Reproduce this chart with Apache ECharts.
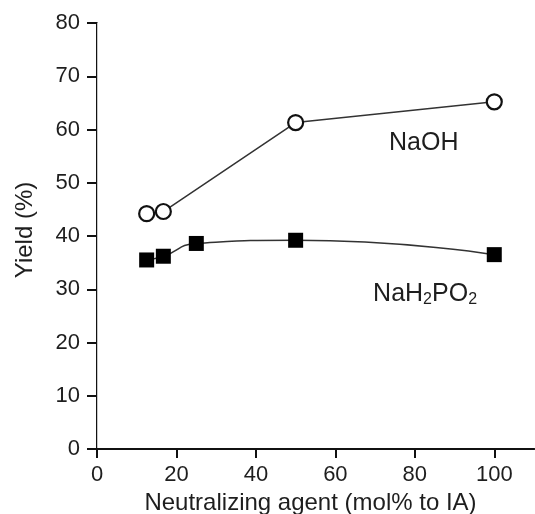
<!DOCTYPE html>
<html>
<head>
<meta charset="utf-8">
<script src="https://cdn.jsdelivr.net/npm/echarts@6/dist/echarts.min.js"></script>
<style>html,body{margin:0;padding:0;background:#fff}#c{width:535px;height:514px}</style>
</head>
<body>
<div id="c"></div>
<script>
const naohX = [12.5, 16.7, 50, 100];
const naohY = [44.2, 44.6, 61.3, 65.2];
const phosX = [12.5, 16.7, 25, 50, 100];
const phosY = [35.5, 36.2, 38.6, 39.2, 36.5];
const xTicks = [0, 20, 40, 60, 80, 100];
const yTicks = [0, 10, 20, 30, 40, 50, 60, 70, 80];
const xName = 'Neutralizing agent (mol% to IA)';
const yName = 'Yield (%)';

const FONT = 'Liberation Sans, Arial, sans-serif';
const TXT = '#1e1e1e';
const chart = echarts.init(document.getElementById('c'));
const axisLine = { show: true, lineStyle: { color: '#111', width: 2 } };
chart.setOption({
  animation: false,
  grid: { left: 97, top: 23, right: 1, bottom: 65, containLabel: false, outerBoundsMode: 'none' },
  xAxis: [{
    type: 'value', min: 0, max: 110, position: 'bottom',
    name: xName, nameLocation: 'middle', nameGap: 40,
    nameTextStyle: { fontFamily: FONT, fontSize: 24, color: TXT, padding: [0, 10, 0, 0] },
    axisLine: axisLine,
    axisTick: { show: true, length: 9, lineStyle: { color: '#111', width: 2 }, customValues: xTicks },
    axisLabel: { margin: 15, fontFamily: FONT, fontSize: 22, color: TXT, customValues: xTicks },
    splitLine: { show: false }
  }, {
    type: 'value', min: 0, max: 110, position: 'top',
    axisLine: axisLine, axisTick: { show: false }, axisLabel: { show: false }, splitLine: { show: false }
  }],
  yAxis: [{
    type: 'value', min: 0, max: 80, interval: 10, position: 'left',
    name: yName, nameLocation: 'middle', nameGap: 60, nameRotate: 90,
    nameTextStyle: { fontFamily: FONT, fontSize: 24, color: TXT, padding: [0, 0, 0, 12] },
    axisLine: axisLine,
    axisTick: { show: true, length: 10, lineStyle: { color: '#111', width: 2 }, customValues: yTicks },
    axisLabel: { margin: 17, fontFamily: FONT, fontSize: 22, color: TXT, customValues: yTicks },
    splitLine: { show: false }
  }, {
    type: 'value', min: 0, max: 80, position: 'right',
    axisLine: { show: true, lineStyle: { color: '#c8c8c8', width: 1 } },
    axisTick: { show: false }, axisLabel: { show: false }, splitLine: { show: false }
  }],
  series: [{
    name: 'NaOH', type: 'line',
    data: naohX.map((x, i) => [x, naohY[i]]),
    symbol: 'circle', symbolSize: 15,
    itemStyle: { color: '#fff', borderColor: '#111', borderWidth: 2.2 },
    lineStyle: { color: '#333', width: 1.5 },
    z: 3
  }, {
    name: 'NaH2PO2', type: 'line', smooth: 0.55,
    data: phosX.map((x, i) => [x, phosY[i]]),
    symbol: 'rect', symbolSize: 15,
    itemStyle: { color: '#000', borderColor: '#000', borderWidth: 0 },
    lineStyle: { color: '#333', width: 1.5 },
    z: 3
  }]
});

const p1 = chart.convertToPixel({ gridIndex: 0 }, [73.5, 57.5]);
const p2 = chart.convertToPixel({ gridIndex: 0 }, [69.5, 28]);
chart.setOption({
  graphic: [{
    type: 'text', x: p1[0], y: p1[1],
    style: { text: 'NaOH', fontFamily: FONT, fontSize: 25, fill: TXT, textAlign: 'left', textVerticalAlign: 'middle' }
  }, {
    type: 'text', x: p2[0], y: p2[1],
    style: {
      text: '{m|NaH}{s|2}{m|PO}{s|2}', fontFamily: FONT, fontSize: 25, fill: TXT,
      textAlign: 'left', textVerticalAlign: 'middle',
      rich: {
        m: { fontFamily: FONT, fontSize: 25, fill: TXT, color: TXT, verticalAlign: 'top', lineHeight: 28, height: 28 },
        s: { fontFamily: FONT, fontSize: 16, fill: TXT, color: TXT, verticalAlign: 'bottom', lineHeight: 40, height: 40 }
      }
    }
  }]
});
</script>
</body>
</html>
